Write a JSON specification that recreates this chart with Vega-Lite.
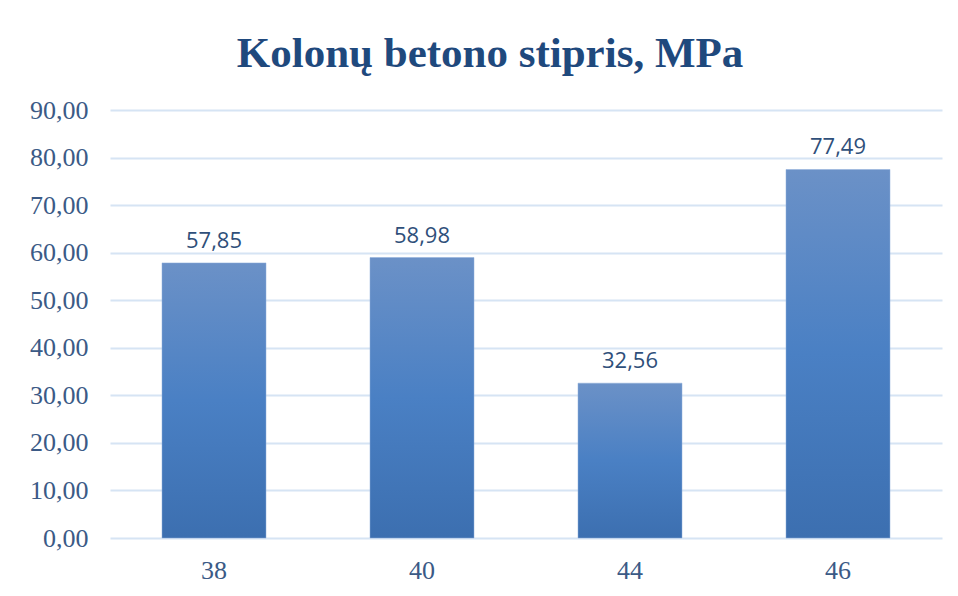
{
  "$schema": "https://vega.github.io/schema/vega-lite/v6.json",
  "width": 832,
  "height": 428,
  "autosize": {"type": "none"},
  "padding": {"left": 110, "top": 110, "right": 16, "bottom": 58},
  "background": "white",
  "title": {
    "text": "Kolonų betono stipris, MPa",
    "font": "Liberation Serif",
    "fontSize": 43,
    "fontWeight": "bold",
    "color": "#1f497d",
    "anchor": "middle",
    "dx": -36,
    "offset": 21
  },
  "data": {
    "values": [
      {"kolona": "38", "stipris": 57.85},
      {"kolona": "40", "stipris": 58.98},
      {"kolona": "44", "stipris": 32.56},
      {"kolona": "46", "stipris": 77.49}
    ]
  },
  "config": {
    "locale": {
      "number": {"decimal": ",", "thousands": " ", "grouping": [3], "currency": ["", " €"]}
    },
    "view": {"stroke": null},
    "axis": {
      "labelFont": "Liberation Serif",
      "labelFontSize": 26,
      "labelColor": "#3b5a86",
      "domain": false,
      "ticks": false,
      "title": null
    }
  },
  "encoding": {
    "x": {
      "field": "kolona",
      "type": "ordinal",
      "scale": {"paddingInner": 0.5, "paddingOuter": 0.25},
      "axis": {"labelAngle": 0, "labelPadding": 19, "grid": false}
    },
    "y": {
      "field": "stipris",
      "type": "quantitative",
      "scale": {"domain": [0, 90]},
      "axis": {
        "values": [0, 10, 20, 30, 40, 50, 60, 70, 80, 90],
        "format": ".2f",
        "labelPadding": 22,
        "grid": true,
        "gridColor": "#d6e4f4",
        "gridWidth": 2
      }
    }
  },
  "layer": [
    {
      "mark": {
        "type": "bar",
        "color": {
          "gradient": "linear",
          "x1": 0, "y1": 0, "x2": 0, "y2": 1,
          "stops": [
            {"offset": 0, "color": "#6b91c7"},
            {"offset": 0.5, "color": "#4a80c4"},
            {"offset": 1, "color": "#3c6fb0"}
          ]
        },
        "stroke": "#8eaedb",
        "strokeWidth": 0.5
      }
    },
    {
      "mark": {
        "type": "text",
        "baseline": "bottom",
        "dy": -10,
        "font": "Open Sans",
        "fontSize": 22,
        "color": "#2f4f7a"
      },
      "encoding": {
        "text": {"field": "stipris", "type": "quantitative", "format": ".2f"}
      }
    }
  ]
}
